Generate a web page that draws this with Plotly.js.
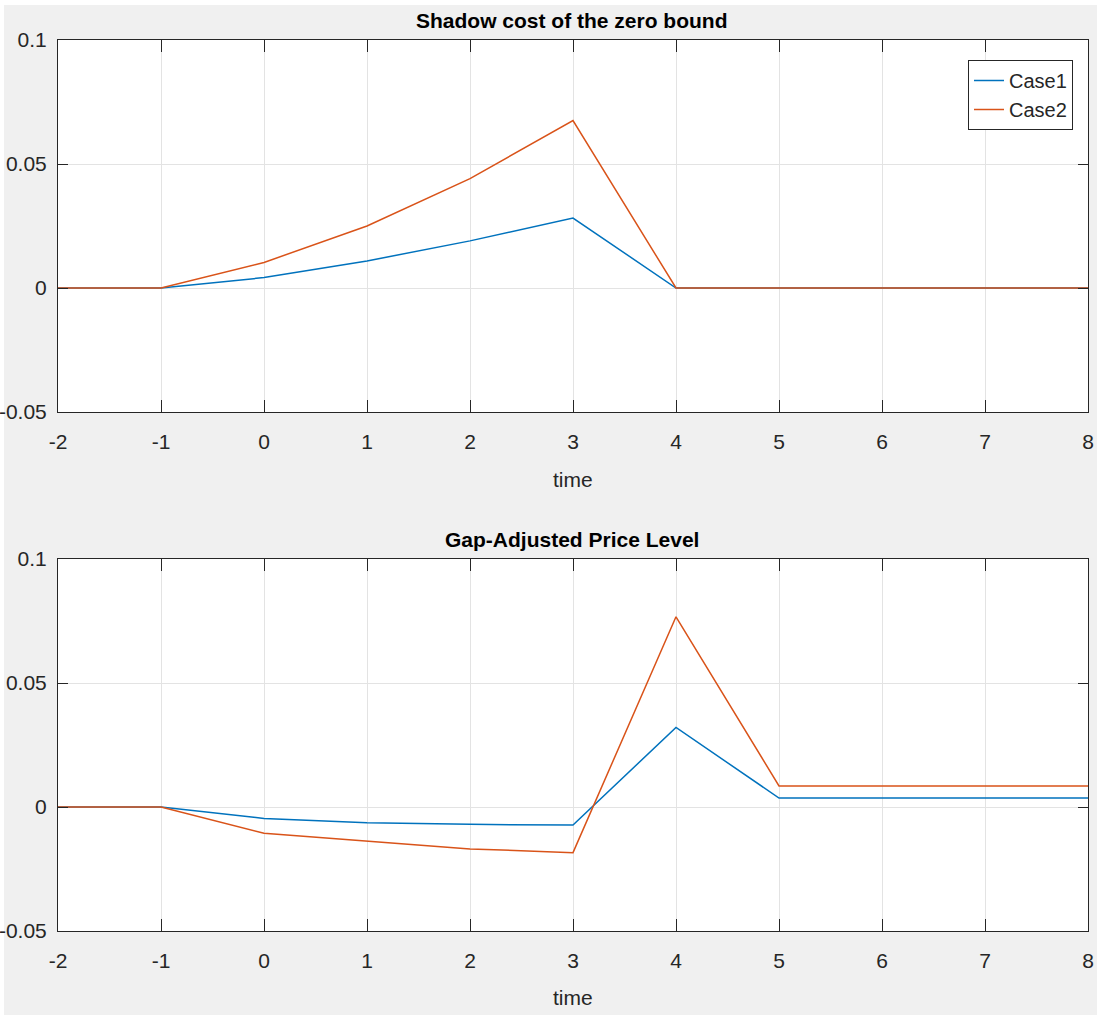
<!DOCTYPE html>
<html>
<head>
<meta charset="utf-8">
<script src="https://cdn.plot.ly/plotly-3.0.1.min.js"></script>
<style>
  html, body { margin: 0; padding: 0; background: #ffffff; }
  #chart { position: absolute; left: 0; top: 0; width: 1097px; height: 1019px; }
</style>
</head>
<body>
<div id="chart"></div>
<script>
// time axis
const time = [-2, -1, 0, 1, 2, 3, 4, 5, 6, 7, 8];

// Shadow cost of the zero bound
const shadowCase1 = [0, 0, 0.0042, 0.0109, 0.0190, 0.0282, 0, 0, 0, 0, 0];
const shadowCase2 = [0, 0, 0.0103, 0.0250, 0.0441, 0.0675, 0, 0, 0, 0, 0];

// Gap-Adjusted Price Level
const priceCase1 = [0, 0, -0.0046, -0.0063, -0.0070, -0.0073, 0.0321, 0.0036, 0.0036, 0.0036, 0.0036];
const priceCase2 = [0, 0, -0.0106, -0.0138, -0.0169, -0.0184, 0.0767, 0.0085, 0.0085, 0.0085, 0.0085];

const seriesNames = ['Case1', 'Case2'];
const titles = ['Shadow cost of the zero bound', 'Gap-Adjusted Price Level'];
const xTickVals = [-2, -1, 0, 1, 2, 3, 4, 5, 6, 7, 8];
const xTickText = ['-2', '-1', '0', '1', '2', '3', '4', '5', '6', '7', '8'];
const yTickVals = [-0.05, 0, 0.05, 0.1];
const yTickText = ['-0.05', '0', '0.05', '0.1'];

const blue = '#0072BD';
const orange = '#D95319';
const FONT = '"Liberation Sans Narrow", "Arial Narrow", "Liberation Sans", Arial, sans-serif';
const axisColor = '#262626';
const TICKSIZE = 21;

const traces = [
  {x: time, y: shadowCase1, name: seriesNames[0], mode: 'lines', line: {color: blue, width: 1.5}, xaxis: 'x', yaxis: 'y'},
  {x: time, y: shadowCase2, name: seriesNames[1], mode: 'lines', line: {color: orange, width: 1.5}, xaxis: 'x', yaxis: 'y'},
  {x: time, y: priceCase1, name: seriesNames[0], mode: 'lines', line: {color: blue, width: 1.5}, xaxis: 'x2', yaxis: 'y2', showlegend: false},
  {x: time, y: priceCase2, name: seriesNames[1], mode: 'lines', line: {color: orange, width: 1.5}, xaxis: 'x2', yaxis: 'y2', showlegend: false}
];

function xAxis(anchor) {
  return {
    anchor: anchor, domain: [0, 1], range: [-2, 8],
    tickvals: xTickVals, ticktext: xTickText, ticks: 'inside', ticklen: 12, tickcolor: axisColor, tickwidth: 1,
    showline: true, linecolor: axisColor, linewidth: 1, mirror: 'ticks',
    showgrid: true, gridcolor: '#e3e3e3', gridwidth: 1, zeroline: false,
    tickfont: {family: FONT, size: TICKSIZE, color: '#262626'},
    ticklabelstandoff: 11
  };
}
function yAxis(anchor, domain) {
  return {
    anchor: anchor, domain: domain, range: [-0.05, 0.1],
    tickvals: yTickVals, ticktext: yTickText, ticks: 'inside', ticklen: 10, tickcolor: axisColor, tickwidth: 1,
    showline: true, linecolor: axisColor, linewidth: 1, mirror: 'ticks',
    showgrid: true, gridcolor: '#e3e3e3', gridwidth: 1, zeroline: false,
    tickfont: {family: FONT, size: TICKSIZE, color: '#262626'},
    ticklabelstandoff: 6
  };
}

const annFont = {family: FONT, size: TICKSIZE, color: '#262626'};
const titleFont = {family: FONT, size: 21, color: '#000000'};
// page geometry helpers (plot area: x 58..1088, y 40..931)
const PX = v => (v - 58) / 1030;
const PY = v => 1 - (v - 40) / 891;

const layout = {
  width: 1097, height: 1019,
  paper_bgcolor: '#ffffff', plot_bgcolor: '#ffffff',
  margin: {l: 58, r: 9, t: 40, b: 88},
  showlegend: true,
  legend: {
    x: PX(1073), xanchor: 'right', y: PY(60), yanchor: 'top',
    bgcolor: '#ffffff', bordercolor: axisColor, borderwidth: 1,
    font: {family: FONT, size: 20, color: '#262626'},
    tracegroupgap: 0, itemwidth: 30
  },
  shapes: [
    {type: 'rect', xref: 'paper', yref: 'paper', x0: PX(4), x1: PX(1097), y0: PY(1015), y1: PY(5),
     fillcolor: '#f0f0f0', line: {width: 0}, layer: 'below'},
    {type: 'rect', xref: 'paper', yref: 'paper', x0: 0, x1: 1, y0: 0, y1: 0.4175,
     fillcolor: '#ffffff', line: {width: 0}, layer: 'below'},
    {type: 'rect', xref: 'paper', yref: 'paper', x0: 0, x1: 1, y0: 0.5825, y1: 1,
     fillcolor: '#ffffff', line: {width: 0}, layer: 'below'}
  ],
  xaxis: xAxis('y'),
  yaxis: yAxis('x', [0.5825, 1]),
  xaxis2: xAxis('y2'),
  yaxis2: yAxis('x2', [0, 0.4175]),
  annotations: [
    {text: '<b>' + titles[0] + '</b>', xref: 'paper', yref: 'paper', x: PX(572), y: PY(21), xanchor: 'center', yanchor: 'middle', showarrow: false, font: titleFont},
    {text: '<b>' + titles[1] + '</b>', xref: 'paper', yref: 'paper', x: PX(572), y: PY(539), xanchor: 'center', yanchor: 'middle', showarrow: false, font: titleFont},
    {text: 'time', xref: 'paper', yref: 'paper', x: PX(573), y: PY(479), xanchor: 'center', yanchor: 'middle', showarrow: false, font: annFont},
    {text: 'time', xref: 'paper', yref: 'paper', x: PX(573), y: PY(997), xanchor: 'center', yanchor: 'middle', showarrow: false, font: annFont}
  ]
};

Plotly.newPlot('chart', traces, layout, {displayModeBar: false, staticPlot: true});
</script>
</body>
</html>
